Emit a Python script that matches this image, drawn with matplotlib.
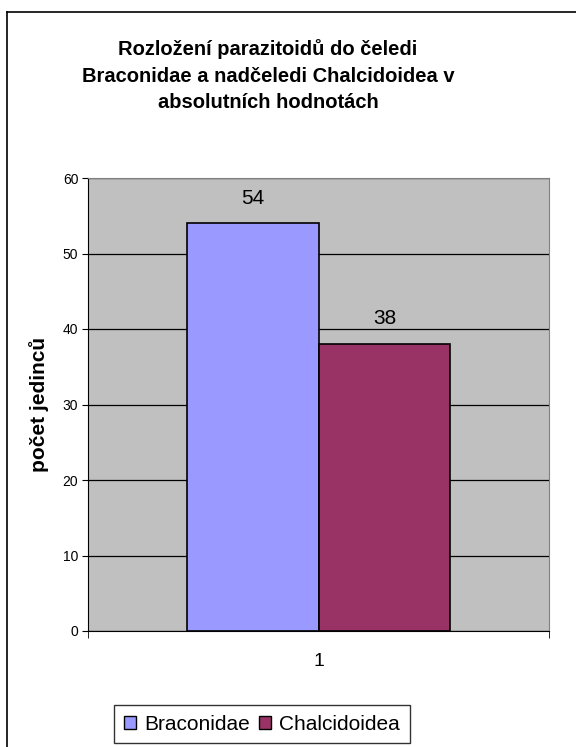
import matplotlib
matplotlib.use("Agg")
import matplotlib.pyplot as plt
from matplotlib.lines import Line2D
from matplotlib.patches import Patch

plt.rcParams['font.family'] = ['Liberation Sans', 'DejaVu Sans']

# data
series = ['Braconidae', 'Chalcidoidea']
counts = [54, 38]
colors = ['#9999FF', '#993366']
category = '1'

W, H = 576, 747
fig = plt.figure(figsize=(W / 100, H / 100), dpi=100)

# outer chart frame (left and top edges only visible)
fx0, fy1 = 7 / W, 1 - 12 / H
fig.add_artist(Line2D([fx0, fx0], [0, fy1], color='black', lw=1.2, transform=fig.transFigure))
fig.add_artist(Line2D([fx0, 1], [fy1, fy1], color='black', lw=1.2, transform=fig.transFigure))

ax = fig.add_axes([88 / W, 1 - 631 / H, (549 - 88) / W, (631 - 178) / H])
ax.set_facecolor('#C0C0C0')

bw = 0.286
offsets = [-bw / 2, bw / 2]
for name, val, col, off in zip(series, counts, colors, offsets):
    ax.bar(1 + off, val, width=bw, color=col, edgecolor='black', linewidth=1.2,
           zorder=3, label=name)
    ax.text(1 + off, val + 2.6, str(val), ha='center', va='baseline', fontsize=15)

ax.set_xlim(0.5, 1.5)
ax.set_ylim(0, 60)
ax.set_yticks(range(0, 61, 10))
ax.yaxis.grid(True, color='black', linewidth=0.9, zorder=1)
ax.set_axisbelow(True)

ax.set_xticks([1])
ax.set_xticklabels([category], fontsize=14)
ax.tick_params(axis='x', length=0, pad=16)
ax.set_xticks([0.5, 1.5], minor=True)
ax.tick_params(axis='x', which='minor', length=5, direction='out', color='black')
ax.tick_params(axis='y', length=4, direction='out', labelsize=10, pad=3)

for side in ['top', 'right']:
    ax.spines[side].set_color('#808080')
ax.spines['left'].set_color('black')
ax.spines['bottom'].set_color('black')

ax.set_ylabel('počet jedinců', fontsize=15, fontweight='bold', labelpad=10)

fig.text(268 / W, 1 - 76 / H,
         'Rozložení parazitoidů do čeledi\nBraconidae a nadčeledi Chalcidoidea v\nabsolutních hodnotách',
         ha='center', va='center', fontsize=14.5, fontweight='bold', linespacing=1.5)

handles = [Patch(facecolor=c, edgecolor='black', linewidth=1.0) for c in colors]
leg = fig.legend(handles, series, loc='center', bbox_to_anchor=(262 / W, 1 - 724 / H),
                 ncol=2, frameon=True, fancybox=False, fontsize=15,
                 handlelength=0.6, handleheight=0.6, handletextpad=0.4,
                 columnspacing=0.4, borderpad=0.45, edgecolor='black')
leg.get_frame().set_linewidth(1.0)

fig.savefig('out.png', dpi=100)
